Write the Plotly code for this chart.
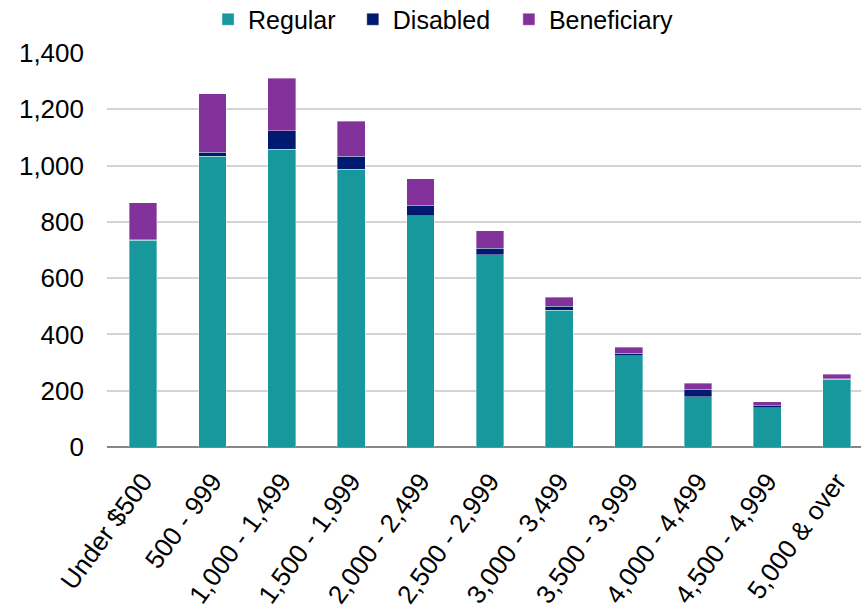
import plotly.graph_objects as go

categories = ["Under $500", "500 - 999", "1,000 - 1,499", "1,500 - 1,999", "2,000 - 2,499",
              "2,500 - 2,999", "3,000 - 3,499", "3,500 - 3,999", "4,000 - 4,499",
              "4,500 - 4,999", "5,000 & over"]
regular = [735, 1033, 1058, 987, 821, 683, 486, 324, 178, 140, 240]
disabled = [2, 14, 65, 46, 38, 23, 14, 10, 28, 6, 2]
beneficiary = [131, 208, 188, 124, 94, 63, 32, 20, 20, 14, 17]
y_ticks = [0, 200, 400, 600, 800, 1000, 1200, 1400]

series = [("Regular", regular, "#17989C", "legend", 0.134),
          ("Disabled", disabled, "#001A70", "legend2", 0.326),
          ("Beneficiary", beneficiary, "#84329B", "legend3", 0.533)]

font = "Liberation Sans, Arial, sans-serif"
fig = go.Figure()
legends = {}
for name, vals, color, leg, lx in series:
    fig.add_trace(go.Bar(
        x=list(range(len(categories))), y=vals, name=name,
        marker=dict(color=color, line=dict(color="rgba(255,255,255,0.6)", width=0.6)),
        width=0.40, legend=leg,
    ))
    legends[leg] = dict(orientation="h", x=lx, xanchor="left", y=1.085, yanchor="middle",
                        font=dict(size=25, family=font), itemwidth=30,
                        bgcolor="rgba(0,0,0,0)")

fig.update_layout(
    barmode="stack",
    width=861, height=613,
    margin=dict(l=107, r=0, t=53, b=166, autoexpand=False),
    plot_bgcolor="white", paper_bgcolor="white",
    font=dict(family=font, size=26, color="#000000"),
    showlegend=True,
    **legends,
)
fig.update_xaxes(
    range=[-0.52, 10.35],
    tickmode="array", tickvals=list(range(len(categories))), ticktext=categories,
    tickangle=-54, tickfont=dict(size=26, family=font),
    showgrid=False, showline=False, zeroline=False, ticks="", ticklabelstandoff=13,
)
fig.update_yaxes(
    range=[0, 1400],
    tickmode="array", tickvals=y_ticks,
    ticktext=[f"{v:,}" for v in y_ticks],
    tickfont=dict(size=26, family=font),
    showgrid=True, gridcolor="#D4D4D4", gridwidth=1.5,
    zeroline=True, zerolinecolor="#868686", zerolinewidth=1.5,
    showline=False, ticks="", ticklabelstandoff=22,
)

fig.write_html("out.html")
